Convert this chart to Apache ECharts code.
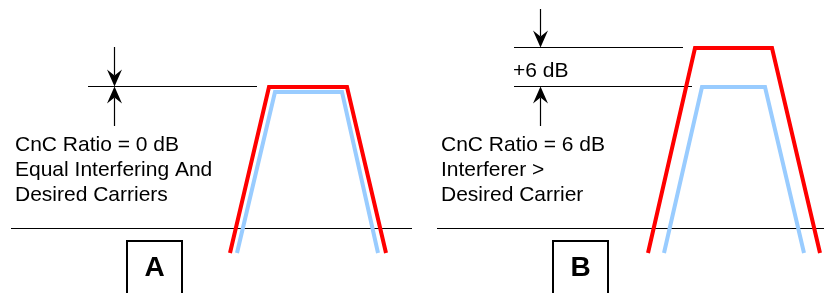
<!DOCTYPE html>
<html>
<head>
<meta charset="utf-8">
<script src="https://cdn.jsdelivr.net/npm/echarts@6/dist/echarts.min.js"></script>
<style>
  html, body { margin: 0; padding: 0; background: #fff; }
  #chart { width: 824px; height: 293px; }
</style>
</head>
<body>
<div id="chart"></div>
<script>
// spectrum outlines, diagram units (x: frequency, y: level, drawn top-down)
const redA = [[230, 253], [269, 87], [347, 87], [386, 253]]
const blueA = [[237, 253], [275, 92], [342, 92], [378, 253]]
const redB = [[648, 253], [695, 48], [772, 48], [820, 253]]
const blueB = [[664, 253], [702, 87], [765, 87], [804, 253]]

// floor lines and level reference lines
const floorA = [[11, 228.5], [412, 228.5]]
const floorB = [[437, 228.5], [824, 228.5]]
const refA = [[88, 86.5], [257, 86.5]]
const refB1 = [[514, 47.5], [683, 47.5]]
const refB2 = [[514, 86.5], [692, 86.5]]

// arrows: x, tail y, tip y
const arrows = [
  [114.5, 47, 86.5],
  [114.5, 126, 86.5],
  [540.5, 9, 47.5],
  [540.5, 126, 86.5]
]

// text: x, y, text
const labels = [
  [15, 145, 'CnC Ratio = 0 dB'],
  [15, 170, 'Equal Interfering And'],
  [15, 195, 'Desired Carriers'],
  [513, 71, '+6 dB'],
  [441, 145, 'CnC Ratio = 6 dB'],
  [441, 170, 'Interferer >'],
  [441, 195, 'Desired Carrier']
]

// panel boxes: x0, y0, x1, y1, letter
const boxes = [
  [127, 241, 182, 300, 'A'],
  [553, 241, 608, 300, 'B']
]

const RED = '#ff0000'
const BLUE = '#99ccff'
const FONT = "'Liberation Sans', Arial, sans-serif"

function lineSeries(data, color, width) {
  return {
    type: 'line',
    data: data,
    symbol: 'none',
    silent: true,
    clip: false,
    lineStyle: { color: color, width: width, join: 'miter', cap: 'butt' },
    z: 2
  }
}

const myChart = echarts.init(document.getElementById('chart'))

const option = {
  animation: false,
  backgroundColor: '#fff',
  grid: { left: 0, right: 0, top: 0, bottom: 0 },
  xAxis: { type: 'value', min: 0, max: 824, show: false },
  yAxis: { type: 'value', min: 0, max: 293, inverse: true, show: false },
  series: [
    lineSeries(floorA, '#000', 1.1),
    lineSeries(floorB, '#000', 1.1),
    lineSeries(refA, '#000', 1.1),
    lineSeries(refB1, '#000', 1.1),
    lineSeries(refB2, '#000', 1.1),
    lineSeries(blueA, BLUE, 4),
    lineSeries(redA, RED, 4),
    lineSeries(blueB, BLUE, 4),
    lineSeries(redB, RED, 4),
    {
      type: 'custom',
      silent: true,
      clip: false,
      data: arrows,
      renderItem: function (params, api) {
        const tail = api.coord([api.value(0), api.value(1)])
        const tip = api.coord([api.value(0), api.value(2)])
        const dir = tip[1] > tail[1] ? 1 : -1
        const len = 17, half = 7.5, notch = 11
        return {
          type: 'group',
          children: [
            {
              type: 'line',
              shape: { x1: tail[0], y1: tail[1], x2: tip[0], y2: tip[1] - dir * notch },
              style: { stroke: '#000', lineWidth: 1.2 }
            },
            {
              type: 'polygon',
              shape: {
                points: [
                  [tip[0], tip[1]],
                  [tip[0] - half, tip[1] - dir * len],
                  [tip[0], tip[1] - dir * notch],
                  [tip[0] + half, tip[1] - dir * len]
                ]
              },
              style: { fill: '#000' }
            }
          ]
        }
      }
    },
    {
      type: 'custom',
      silent: true,
      clip: false,
      data: labels,
      renderItem: function (params, api) {
        const p = api.coord([api.value(0), api.value(1)])
        return {
          type: 'text',
          x: p[0],
          y: p[1],
          style: {
            text: labels[params.dataIndex][2],
            fill: '#000',
            font: '21px ' + FONT,
            textAlign: 'left',
            textVerticalAlign: 'middle'
          }
        }
      }
    },
    {
      type: 'custom',
      silent: true,
      clip: false,
      data: boxes,
      renderItem: function (params, api) {
        const a = api.coord([api.value(0), api.value(1)])
        const b = api.coord([api.value(2), api.value(3)])
        return {
          type: 'group',
          children: [
            {
              type: 'rect',
              shape: { x: a[0], y: a[1], width: b[0] - a[0], height: b[1] - a[1] },
              style: { fill: '#fff', stroke: '#000', lineWidth: 2 }
            },
            {
              type: 'text',
              x: (a[0] + b[0]) / 2,
              y: a[1] + 27,
              style: {
                text: boxes[params.dataIndex][4],
                fill: '#000',
                font: 'bold 28px ' + FONT,
                textAlign: 'center',
                textVerticalAlign: 'middle'
              }
            }
          ]
        }
      }
    }
  ]
}

option && myChart.setOption(option)
window.addEventListener('resize', myChart.resize)
</script>
</body>
</html>
